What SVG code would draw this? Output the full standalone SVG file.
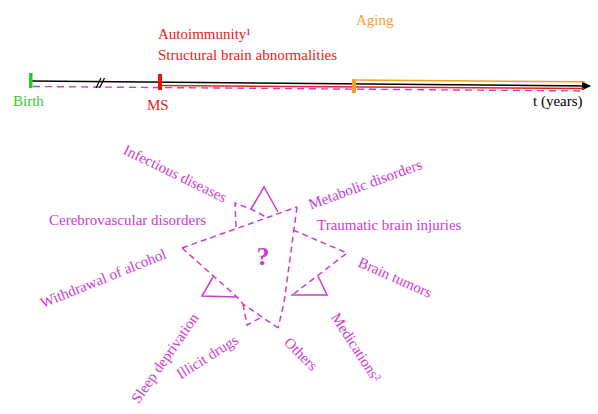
<svg xmlns="http://www.w3.org/2000/svg" width="598" height="414" viewBox="0 0 598 414">
<defs>
<style>
text{font-family:"Liberation Serif","Times New Roman",serif;font-size:15px}
.m{fill:#cc3ccc}
.d{fill:none;stroke:#cc3ccc;stroke-width:1.5;stroke-dasharray:6 4}
.s{fill:none;stroke:#cc3ccc;stroke-width:1.5}
</style>
<marker id="arr" viewBox="0 0 10 10" refX="9" refY="5" markerWidth="9" markerHeight="9" markerUnits="userSpaceOnUse" orient="auto">
<path d="M0,0 L10,5 L0,10 z" fill="#000"/>
</marker>
</defs>
<rect width="598" height="414" fill="#fff"/>

<g id="timeline">
<line x1="30" y1="81" x2="590" y2="86" stroke="#000" stroke-width="1.5" marker-end="url(#arr)"/>
<line x1="160" y1="85.5" x2="584" y2="88.5" stroke="#e82020" stroke-width="1.5"/>
<line x1="354" y1="80" x2="585" y2="81.8" stroke="#f5a020" stroke-width="1.5"/>
<line x1="33" y1="86.5" x2="583" y2="91" stroke="#cc3ccc" stroke-width="1.4" stroke-dasharray="7 5"/>
<path d="M96,88 L101,78 M99.5,88 L104.5,78" stroke="#000" stroke-width="1.2" fill="none"/>
</g>

<g id="birth">
<rect x="29" y="73" width="3.5" height="15" fill="#22cc22"/>
<text x="13" y="106" fill="#33cc33">Birth</text>
</g>
<g id="ms">
<rect x="158" y="74" width="4" height="16" fill="#ee1111"/>
<text x="147" y="110" fill="#e82020">MS</text>
<text x="158" y="39" fill="#e82020">Autoimmunity¹</text>
<text x="158" y="60" fill="#e82020">Structural brain abnormalities</text>
</g>
<g id="aging">
<rect x="352" y="79" width="4" height="14" fill="#f5a020"/>
<text x="356" y="25" fill="#f5a030">Aging</text>
</g>
<g id="time-label">
<text x="533" y="106" fill="#000">t (years)</text>
</g>

<g id="connectors">
<path class="d" d="M182,248 L297,207"/>
<path class="d" d="M182,248 L237,297 L243,304 L278,328"/>
<path class="d" d="M297,207 L284,303 L278,328"/>
<path class="d" d="M236,227 L235,203 L251,209 L266,217"/>
<path class="s" d="M251,209 L264,187 L278,212"/>
<path class="d" d="M243,304 L247,325 L262,317"/>
<path class="s" d="M213,277 L202,296 L237,297"/>
<path class="d" d="M293,230 L347,253 L291,296"/>
<path class="s" d="M318,276 L327,295 L291,295"/>
</g>

<g id="center">
<text x="263" y="265" text-anchor="middle" class="m" style="font-size:26px;font-weight:bold">?</text>
</g>

<g id="labels" class="m">
<text class="m" text-anchor="middle" transform="translate(173,178) rotate(26)">Infectious diseases</text>
<text class="m" text-anchor="middle" transform="translate(367,189) rotate(-20)">Metabolic disorders</text>
<text class="m" x="49" y="225">Cerebrovascular disorders</text>
<text class="m" x="317" y="230">Traumatic brain injuries</text>
<text class="m" text-anchor="middle" transform="translate(393,282) rotate(24)">Brain tumors</text>
<text class="m" text-anchor="middle" transform="translate(105,283) rotate(-22)">Withdrawal of alcohol</text>
<text class="m" text-anchor="middle" transform="translate(169,361) rotate(-55)">Sleep deprivation</text>
<text class="m" text-anchor="middle" transform="translate(210,361) rotate(-32)">Illicit drugs</text>
<text class="m" text-anchor="middle" transform="translate(297.5,357.5) rotate(45)">Others</text>
<text class="m" text-anchor="middle" transform="translate(352,350) rotate(57)">Medications²</text>
</g>
</svg>
